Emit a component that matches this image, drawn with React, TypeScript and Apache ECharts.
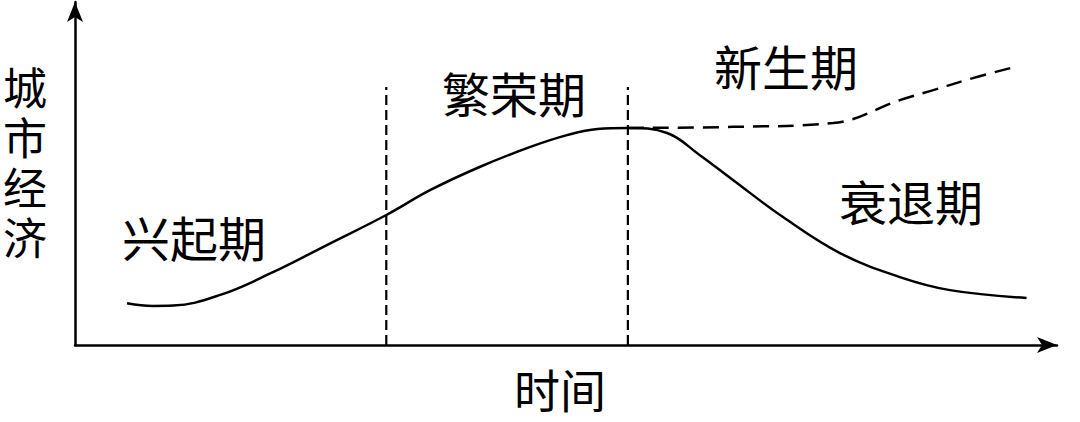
import React, { useEffect, useRef } from "react";
import * as echarts from "echarts";

// x: time (0..100 across axis), y: urban economy (0..100)
const mainCurve: [number, number][] = [
  [5.3, 12.2], [7.9, 11.4], [10.0, 11.5], [14.8, 14.6], [20.0, 21.0], [25.7, 29.2],
  [31.7, 37.9], [36.2, 45.2], [41.2, 51.9], [46.3, 57.7], [50.1, 61.2],
  [53.2, 63.0], [56.3, 63.3], [60.3, 61.8], [63.6, 55.4], [67.0, 48.1],
  [72.1, 37.3], [77.9, 26.8], [84.0, 19.8], [89.1, 16.0], [96.9, 13.7],
];
const renewalCurve: [number, number][] = [
  [56.3, 63.3], [67.0, 63.6], [77.2, 64.7], [84.0, 71.4], [87.4, 74.3], [90.8, 77.3], [96.0, 81.3],
];
const dividers: number[] = [31.7, 56.3];
const dividerTop = 75.2;
const phaseLabels = ["兴起期", "繁荣期", "新生期", "衰退期"];
const yAxisLabel = ["城", "市", "经", "济"];
const xAxisLabel = "时间";

const FONT = '"Noto Sans CJK SC", "Noto Sans", sans-serif';

export default function App() {
  const ref = useRef<HTMLDivElement>(null);
  useEffect(() => {
    document.body.style.margin = "0";
    const chart = echarts.init(ref.current!, null, { renderer: "svg" });
    const lineStyleDivider = { color: "#000", width: 2.2, type: [10, 5] as any };
    const txt = (text: string, x: number, y: number, size: number, lh?: number) => ({
      type: "text", x, y,
      style: {
        text, font: `${size}px ${FONT}`, fill: "#000", textAlign: "center", textVerticalAlign: "middle",
        ...(lh ? { lineHeight: lh } : {}),
      },
    });
    const option: any = {
      animation: false,
      backgroundColor: "#fff",
      grid: { left: 75, right: 23, top: 2, bottom: 77 },
      xAxis: {
        type: "value", min: 0, max: 100,
        axisLine: { show: true, symbol: ["none", "arrow"], symbolSize: [12, 20], lineStyle: { color: "#000", width: 2.5 } },
        axisTick: { show: false }, axisLabel: { show: false }, splitLine: { show: false },
      },
      yAxis: {
        type: "value", min: 0, max: 100,
        axisLine: { show: true, symbol: ["none", "arrow"], symbolSize: [12, 20], lineStyle: { color: "#000", width: 2.5 } },
        axisTick: { show: false }, axisLabel: { show: false }, splitLine: { show: false },
      },
      series: [
        { type: "line", data: mainCurve, smooth: 0.4, showSymbol: false, lineStyle: { color: "#000", width: 2.5 } },
        { type: "line", data: renewalCurve, smooth: 0.4, showSymbol: false, lineStyle: { color: "#000", width: 2.5, type: [16, 9] } },
        ...dividers.map((x) => ({
          type: "line", data: [[x, 0], [x, dividerTop]], showSymbol: false, lineStyle: lineStyleDivider,
        })),
      ],
      graphic: [
        txt(phaseLabels[0], 194, 236, 48),
        txt(phaseLabels[1], 514, 92, 48),
        txt(phaseLabels[2], 786, 65, 48),
        txt(phaseLabels[3], 911, 200, 48),
        ...yAxisLabel.map((c, i) => txt(c, 25, 86 + i * 50, 44, 48)),
        txt(xAxisLabel, 560, 388, 46),
      ],
    };
    chart.setOption(option);
    return () => chart.dispose();
  }, []);
  return <div ref={ref} style={{ position: "absolute", left: 0, top: 0, width: 1080, height: 422 }} />;
}
